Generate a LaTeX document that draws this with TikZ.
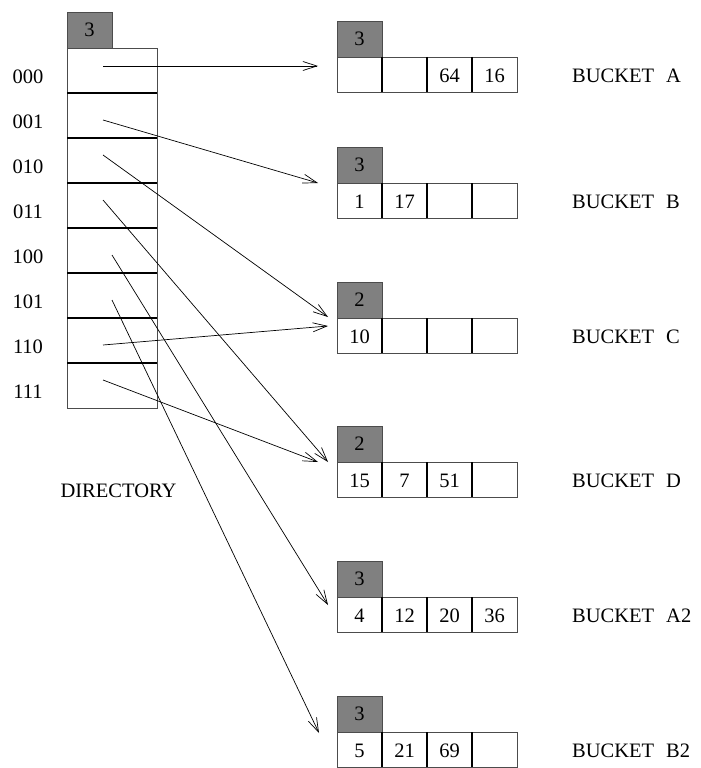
\documentclass[tikz,border=0pt]{standalone}
\usepackage{fontspec}
\setmainfont{Liberation Serif}
\usetikzlibrary{arrows.meta,positioning}

\begin{document}
\begin{tikzpicture}[y=-1pt,x=1pt,
	font=\fontsize{20.5}{24}\selectfont,
	frame/.style={draw=black!70, line width=0.8pt},
	sep/.style={draw=black, line width=1.6pt},
	depthbox/.style={frame, fill=black!50},
	ptr/.style={-{Straight Barb[length=14pt,width=9pt]}, line width=0.7pt}]
	\useasboundingbox (0,0) rectangle (701,768);
	\newcommand\Bucket[8]{% name, row top, depth, four values, label
		\draw[depthbox] (337,#2-36) rectangle (382,#2);
		\node (#1d) at (359.5,#2-18) {#3};
		\draw[frame] (337,#2) rectangle (517,#2+35);
		\foreach \k in {1,2,3} \draw[sep] (337+45*\k,#2) -- (337+45*\k,#2+35);
		\foreach \v [count=\k from 0] in {#4,#5,#6,#7} \node (#1\k) at (359.5+45*\k,#2+18.5) {\v};
		\node[anchor=west, inner sep=0pt] (#1l) at (572,#2+19) {#8};
	}

	% directory
	\draw[depthbox] (67,12) rectangle (112,48);
	\node (dird) at (89.5,30) {3};
	\draw[frame] (67,48) rectangle (157,408);
	\foreach \i in {1,...,7} \draw[sep] (67,48+45*\i) -- (157,48+45*\i);
	\foreach \b [count=\i from 0] in {000,001,010,011,100,101,110,111}
		\node (l\b) at (28,77+45*\i) {\b};
	\node (dir) at (118.5,491) {DIRECTORY};

	% buckets
	\Bucket{A}{57}{3}{}{}{64}{16}{BUCKET\hspace{12pt}A}
	\Bucket{B}{183}{3}{1}{17}{}{}{BUCKET\hspace{12pt}B}
	\Bucket{C}{318}{2}{10}{}{}{}{BUCKET\hspace{12pt}C}
	\Bucket{D}{462}{2}{15}{7}{51}{}{BUCKET\hspace{12pt}D}
	\Bucket{Atwo}{597}{3}{4}{12}{20}{36}{BUCKET\hspace{12pt}A2}
	\Bucket{Btwo}{732}{3}{5}{21}{69}{}{BUCKET\hspace{12pt}B2}

	% pointers
	\coordinate (p000) at (103,66);
	\coordinate (p001) at (103,120);
	\coordinate (p010) at (103,155);
	\coordinate (p011) at (103,200);
	\coordinate (p100) at (112,255);
	\coordinate (p101) at (112,300);
	\coordinate (p110) at (103,345);
	\coordinate (p111) at (103,380);
	\coordinate (eA) at (318,66);
	\coordinate (eB) at (318,183);
	\coordinate (eC1) at (328,317);
	\coordinate (eC2) at (328,326);
	\coordinate (eD1) at (328,462);
	\coordinate (eD2) at (318,462);
	\coordinate (eA2) at (328,605);
	\coordinate (eB2) at (319,733);

	\draw[ptr] (p000) -- (eA);
	\draw[ptr] (p001) -- (eB);
	\draw[ptr] (p010) -- (eC1);
	\draw[ptr] (p110) -- (eC2);
	\draw[ptr] (p011) -- (eD1);
	\draw[ptr] (p111) -- (eD2);
	\draw[ptr] (p100) -- (eA2);
	\draw[ptr] (p101) -- (eB2);
\end{tikzpicture}
\end{document}
